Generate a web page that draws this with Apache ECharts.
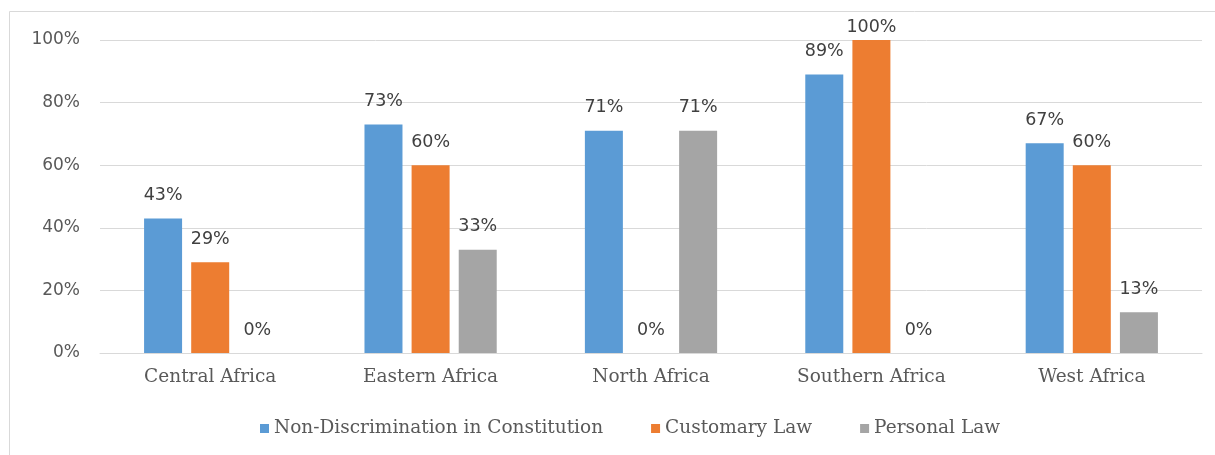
<!DOCTYPE html>
<html>
<head>
<meta charset="utf-8">
<script src="https://cdn.jsdelivr.net/npm/echarts@6/dist/echarts.min.js"></script>
<style>
  html, body { margin: 0; padding: 0; background: #fff; }
  #main { width: 1215px; height: 455px; }
</style>
</head>
<body>
<div id="main"></div>
<script>
// data
var regions = ['Central Africa', 'Eastern Africa', 'North Africa', 'Southern Africa', 'West Africa'];
var nonDiscrimination = [43, 73, 71, 89, 67];
var customaryLaw = [29, 60, 0, 100, 60];
var personalLaw = [0, 33, 71, 0, 13];
var seriesNames = ['Non-Discrimination in Constitution', 'Customary Law', 'Personal Law'];

var serif = 'DejaVu Serif';
var sans = 'DejaVu Sans';

function makeSeries(name, values, color) {
    return {
        name: name,
        type: 'bar',
        // the label of a full bar is pushed down to stay inside the chart
        data: values.map(function (v) {
            return v >= 100 ? { value: v, label: { distance: 4 } } : v;
        }),
        barWidth: 38,
        barGap: '24%',
        itemStyle: { color: color },
        label: {
            show: true,
            position: 'top',
            distance: 14,
            formatter: '{c}%',
            color: '#404040',
            fontFamily: sans,
            fontSize: 17.5
        }
    };
}

var myChart = echarts.init(document.getElementById('main'));
var option = {
    animation: false,
    graphic: [{
        type: 'rect',
        shape: { x: 9.5, y: 11.5, width: 1230, height: 470 },
        style: { fill: 'none', stroke: '#d9d9d9', lineWidth: 1 },
        silent: true
    }],
    grid: { left: 100, right: 13, top: 40, bottom: 102, containLabel: false },
    legend: {
        data: seriesNames,
        top: 414,
        left: 255,
        itemWidth: 9,
        itemHeight: 9,
        itemGap: 48,
        icon: 'rect',
        textStyle: { fontFamily: serif, fontSize: 18.5, color: '#595959' }
    },
    xAxis: {
        type: 'category',
        data: regions,
        axisLine: { lineStyle: { color: '#d9d9d9' } },
        axisTick: { show: false },
        axisLabel: { fontFamily: serif, fontSize: 18.5, color: '#595959', margin: 15 }
    },
    yAxis: {
        type: 'value',
        min: 0,
        max: 100,
        interval: 20,
        axisLabel: { formatter: '{value}%', fontFamily: sans, fontSize: 17, color: '#595959', margin: 20 },
        splitLine: { lineStyle: { color: '#d9d9d9' } },
        axisLine: { show: false },
        axisTick: { show: false }
    },
    series: [
        makeSeries(seriesNames[0], nonDiscrimination, '#5b9bd5'),
        makeSeries(seriesNames[1], customaryLaw, '#ed7d31'),
        makeSeries(seriesNames[2], personalLaw, '#a5a5a5')
    ]
};
myChart.setOption(option);
</script>
</body>
</html>
